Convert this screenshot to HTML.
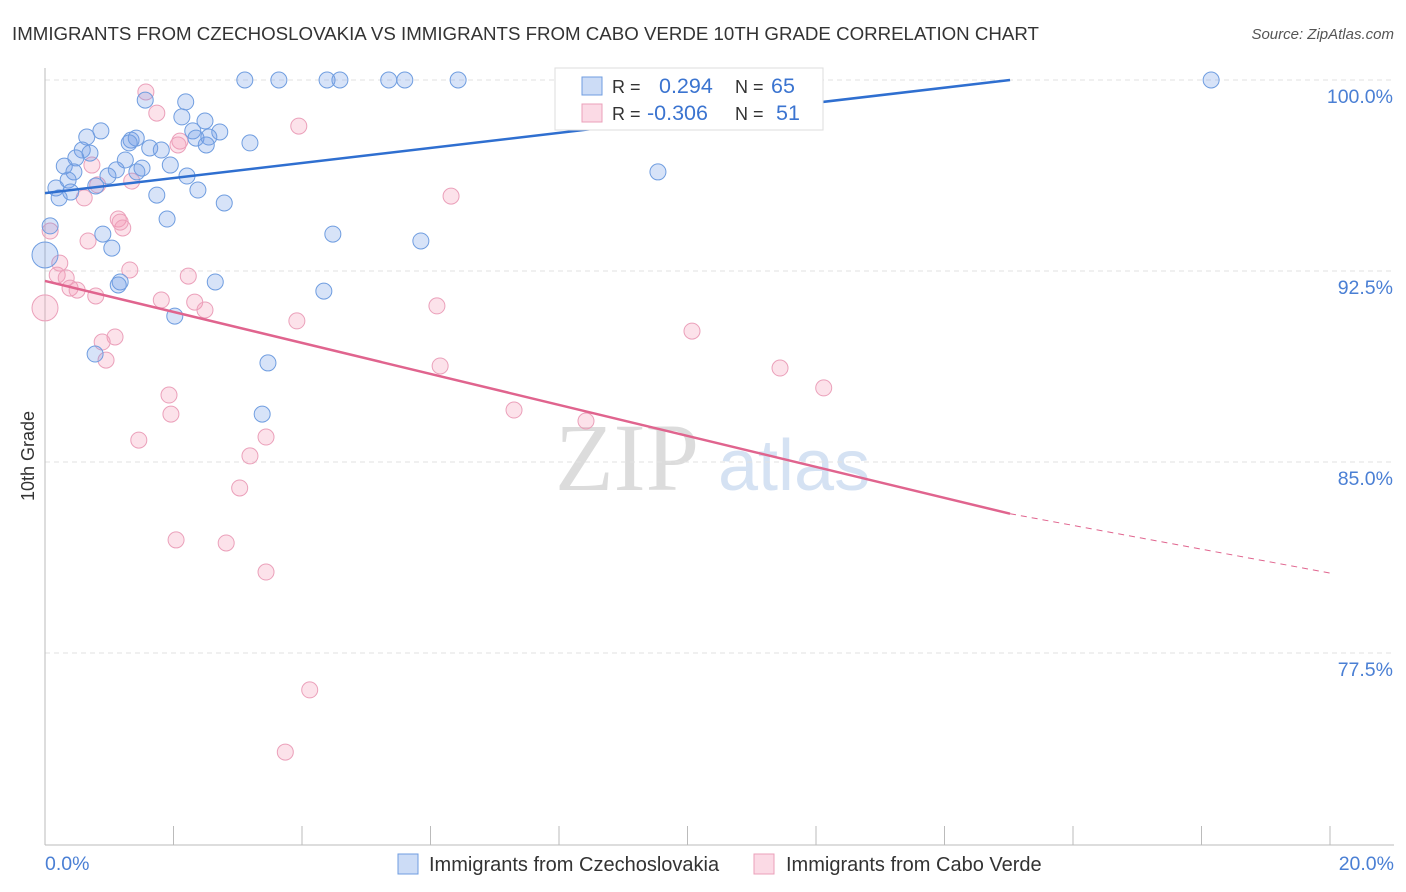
<!DOCTYPE html>
<html><head><meta charset="utf-8"><style>
body{margin:0;background:#fff;font-family:"Liberation Sans",sans-serif;}
#wrap{position:relative;width:1406px;height:892px;overflow:hidden;}
</style></head><body>
<div id="wrap">
<svg id="svg" width="1406" height="892"></svg>
</div>
<script>
const blueX=[3.11,3.64,4.39,4.59,5.35,5.60,6.43,8.17,18.15,1.56,2.19,2.13,2.49,0.87,0.65,1.34,1.42,2.30,2.72,2.35,2.55,1.31,2.51,3.19,1.63,1.81,0.58,0.70,0.48,1.25,0.30,1.95,1.51,1.11,1.43,0.45,0.98,0.36,2.21,0.17,0.79,0.40,0.22,2.38,1.74,2.79,9.54,0.08,1.90,0.90,1.04,4.48,5.85,0,1.17,2.65,1.14,4.34,2.02,0.78,3.47,3.38];
const blueY=[100,100,100,100,100,100,100,100,100,99.21,99.14,98.55,98.39,98.00,97.76,97.64,97.72,98.00,97.96,97.72,97.76,97.53,97.45,97.53,97.33,97.25,97.25,97.13,96.94,96.86,96.62,96.66,96.54,96.47,96.39,96.39,96.23,96.07,96.23,95.76,95.84,95.60,95.37,95.68,95.48,95.17,96.39,94.27,94.54,93.95,93.40,93.95,93.68,93.13,92.07,92.07,91.95,91.71,90.73,89.24,88.89,86.88];
const pinkX=[1.57,1.74,3.95,2.10,2.07,0.73,0.82,1.35,0.61,6.32,1.14,1.21,1.17,0.08,0.67,0.23,0.19,0.33,1.32,2.23,0.39,0.50,0.79,1.81,2.33,2.49,0,3.92,6.10,10.07,1.09,0.89,0.95,6.15,11.44,12.12,1.93,7.30,1.96,8.42,1.46,3.44,3.19,3.03,2.04,2.82,3.44,4.12,3.74];
const pinkY=[99.53,98.70,98.19,97.60,97.45,96.66,95.88,96.03,95.37,95.44,94.54,94.19,94.42,94.07,93.68,92.81,92.34,92.23,92.54,92.30,91.83,91.75,91.52,91.36,91.28,90.97,91.05,90.54,91.13,90.14,89.91,89.71,89.00,88.77,88.69,87.91,87.63,87.04,86.88,86.61,85.86,85.98,85.24,83.98,81.94,81.82,80.68,76.05,73.61];
const blueTrend=[[0,95.56],[15.02,100]];
const pinkTrend=[[0,92.11],[15.02,82.97],[20,80.64]];
const yTicks=[100,92.5,85,77.5];
const yTickLabels=["100.0%","92.5%","85.0%","77.5%"];
const NS="http://www.w3.org/2000/svg";
const svg=document.getElementById('svg');
const X=v=>45+v/20*1285;
const Y=v=>80+(100-v)/7.5*191;
function add(tag,attrs,parent,text){const e=document.createElementNS(NS,tag);for(const k in attrs)e.setAttribute(k,attrs[k]);if(text!==undefined)e.textContent=text;(parent||svg).appendChild(e);return e;}
let t=add('text',{x:12,y:40,'font-size':18.7,fill:'#333'},null,'IMMIGRANTS FROM CZECHOSLOVAKIA VS IMMIGRANTS FROM CABO VERDE 10TH GRADE CORRELATION CHART');

t=add('text',{x:1394,y:39,'font-size':15,fill:'#555','font-style':'italic','text-anchor':'end'},null,'Source: ZipAtlas.com');

t=add('text',{x:555,y:490,'font-size':96,fill:'#dcdcdc','font-family':'Liberation Serif'},null,'ZIP');

t=add('text',{x:718,y:490,'font-size':72,fill:'#d5e2f3'},null,'atlas');

yTicks.forEach((v,i)=>{
 const g=add('line',{x1:45,x2:1394,y1:Y(v),y2:Y(v),stroke:'#e2e2e2','stroke-dasharray':'5,4'});
 
 const l=add('text',{x:1393,y:Y(v)+23,'font-size':19.5,fill:'#4a7fd4','text-anchor':'end'},null,yTickLabels[i]);
 
});
let a=add('line',{x1:45,x2:45,y1:68,y2:845,stroke:'#bbb'});
a=add('line',{x1:45,x2:1394,y1:845,y2:845,stroke:'#bbb'});
for(let i=0;i<=10;i++){const k=add('line',{x1:X(i*2),x2:X(i*2),y1:826,y2:845,stroke:'#bbb'});}
t=add('text',{x:45,y:870,'font-size':19.5,fill:'#4a7fd4'},null,'0.0%');
t=add('text',{x:1394,y:870,'font-size':19.5,fill:'#4a7fd4','text-anchor':'end'},null,'20.0%');
t=add('text',{x:34,y:456,'font-size':18,fill:'#333','text-anchor':'middle',transform:'rotate(-90 34 456)'},null,'10th Grade');

function pts(xs,ys,fill,stroke,name){xs.forEach((x,i)=>{const big=(x===0);const c=add('circle',{cx:X(x),cy:Y(ys[i]),r:big?13:8,fill:fill,stroke:stroke,'stroke-width':1});
});}
pts(pinkX,pinkY,'rgba(244,150,180,0.28)','#eba0ba','point-cabo-verde');
pts(blueX,blueY,'rgba(110,155,230,0.28)','#6f9de0','point-czechoslovakia');
let l=add('line',{x1:X(blueTrend[0][0]),y1:Y(blueTrend[0][1]),x2:X(blueTrend[1][0]),y2:Y(blueTrend[1][1]),stroke:'#2f6fd0','stroke-width':2.5});

l=add('line',{x1:X(pinkTrend[0][0]),y1:Y(pinkTrend[0][1]),x2:X(pinkTrend[1][0]),y2:Y(pinkTrend[1][1]),stroke:'#e0648e','stroke-width':2.5});

l=add('line',{x1:X(pinkTrend[1][0]),y1:Y(pinkTrend[1][1]),x2:X(pinkTrend[2][0]),y2:Y(pinkTrend[2][1]),stroke:'#e0648e','stroke-width':1,'stroke-dasharray':'6,5'});

const lg=add('g',{});
add('rect',{x:555,y:68,width:268,height:62,fill:'#fff',stroke:'#ddd'},lg);
add('rect',{x:582,y:77,width:20,height:18,fill:'rgba(110,155,230,0.35)',stroke:'#6f9de0'},lg);
add('rect',{x:582,y:104,width:20,height:18,fill:'rgba(244,150,180,0.35)',stroke:'#eba0ba'},lg);
add('text',{x:612,y:93,'font-size':18,fill:'#333'},lg,'R =');
add('text',{x:659,y:93,'font-size':21.5,fill:'#3b74d0'},lg,'0.294');
add('text',{x:735,y:93,'font-size':18,fill:'#333'},lg,'N =');
add('text',{x:771,y:93,'font-size':21.5,fill:'#3b74d0'},lg,'65');
add('text',{x:612,y:120,'font-size':18,fill:'#333'},lg,'R =');
add('text',{x:647,y:120,'font-size':21.5,fill:'#3b74d0'},lg,'-0.306');
add('text',{x:735,y:120,'font-size':18,fill:'#333'},lg,'N =');
add('text',{x:776,y:120,'font-size':21.5,fill:'#3b74d0'},lg,'51');
const b1=add('g',{});
add('rect',{x:398,y:854,width:20,height:20,fill:'rgba(110,155,230,0.35)',stroke:'#6f9de0'},b1);
add('text',{x:429,y:871,'font-size':20,fill:'#333'},b1,'Immigrants from Czechoslovakia');
const b2=add('g',{});
add('rect',{x:754,y:854,width:20,height:20,fill:'rgba(244,150,180,0.35)',stroke:'#eba0ba'},b2);
add('text',{x:786,y:871,'font-size':20,fill:'#333'},b2,'Immigrants from Cabo Verde');
</script>
</body></html>
